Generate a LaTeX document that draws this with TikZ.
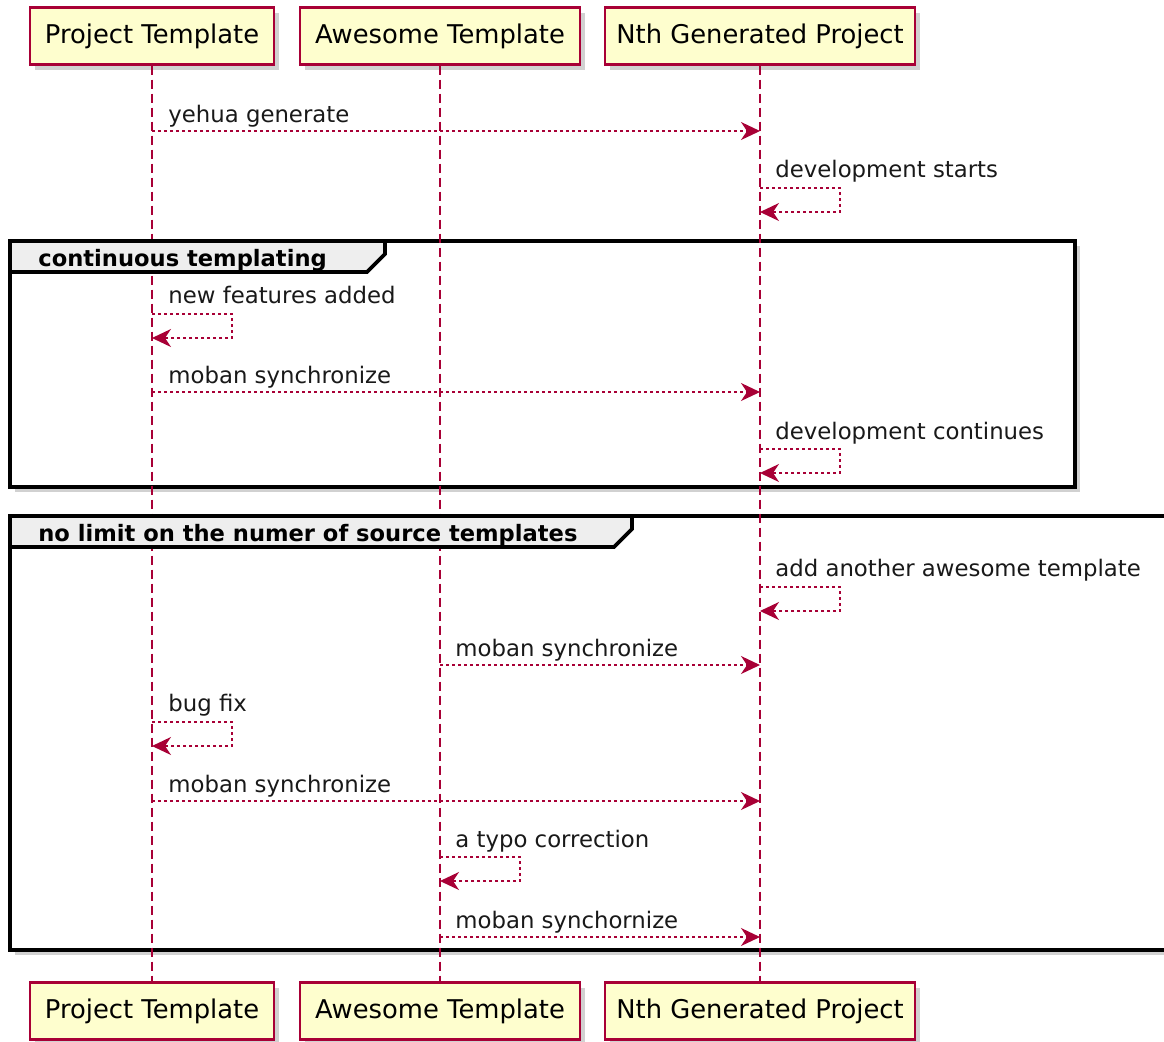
\documentclass[tikz,border=0pt]{standalone}
\usepackage{fontspec}
\setmainfont{DejaVu Sans}
\usetikzlibrary{arrows.meta,shadows}

\definecolor{umlred}{HTML}{A80036}
\definecolor{umlfill}{HTML}{FEFECE}
\definecolor{tabgray}{HTML}{EEEEEE}

\tikzset{
  actor/.style={draw=umlred, fill=umlfill, line width=1.1pt, minimum height=28.5pt,
    inner sep=0pt, font=\fontsize{12.9}{15}\selectfont,
    drop shadow={shadow xshift=2.5pt, shadow yshift=-2.5pt, fill=black!30, opacity=0.6}},
  life/.style={umlred, dash pattern=on 4.5pt off 2.5pt, line width=0.6pt},
  msg/.style={umlred, dash pattern=on 1.5pt off 1.5pt, line width=0.6pt,
    -{Stealth[length=9.5pt, width=9pt, inset=3pt]}},
  lbl/.style={font=\fontsize{11.4}{14}\selectfont, anchor=base west, inner sep=0pt, text=black!90},
  grp/.style={draw=black, line width=1.8pt},
  grplbl/.style={font=\bfseries\fontsize{11.3}{13}\selectfont, anchor=base west, inner sep=0pt},
}

\begin{document}
\begin{tikzpicture}[x=0.5pt, y=-0.5pt]
\useasboundingbox (0,0) rectangle (1164,1041);

% participants, top and bottom
\node[actor, minimum width=122pt] (PT) at (152,36) {Project Template};
\node[actor, minimum width=140pt] (AT) at (440,36) {Awesome Template};
\node[actor, minimum width=155pt] (NG) at (760,36) {Nth Generated Project};
\node[actor, minimum width=122pt] (PTb) at (152,1011) {Project Template};
\node[actor, minimum width=140pt] (ATb) at (440,1011) {Awesome Template};
\node[actor, minimum width=155pt] (NGb) at (760,1011) {Nth Generated Project};

% group frames
\draw[grp, drop shadow={shadow xshift=2.5pt, shadow yshift=-2.5pt, fill=black!30, opacity=0.6}, fill=white]
  (10,241) rectangle (1075,487);
\draw[grp, drop shadow={shadow xshift=2.5pt, shadow yshift=-2.5pt, fill=black!30, opacity=0.6}, fill=white]
  (10,516) rectangle (1180,950);

% lifelines
\draw[life] (PT) -- (PTb);
\draw[life] (AT) -- (ATb);
\draw[life] (NG) -- (NGb);

% group tabs
\draw[grp, fill=tabgray] (10,241) -- (385,241) -- (385,254) -- (367,272) -- (10,272) -- cycle;
\draw[grp, fill=tabgray] (10,516) -- (632,516) -- (632,529) -- (614,547) -- (10,547) -- cycle;
\node[grplbl] (g1) at (38,266) {continuous templating};
\node[grplbl] (g2) at (38,541) {no limit on the numer of source templates};

% messages
\node[lbl] (m1) at (168,122) {yehua generate};
\draw[msg] (PT |- 0,131) -- (NG |- 0,131);

\node[lbl] (m2) at (775,177) {development starts};
\draw[msg] (NG |- 0,188) -- ++(80,0) |- (NG |- 0,212);

\node[lbl] (m3) at (168,303) {new features added};
\draw[msg] (PT |- 0,314) -- ++(80,0) |- (PT |- 0,338);

\node[lbl] (m4) at (168,383) {moban synchronize};
\draw[msg] (PT |- 0,392) -- (NG |- 0,392);

\node[lbl] (m5) at (775,439) {development continues};
\draw[msg] (NG |- 0,449) -- ++(80,0) |- (NG |- 0,473);

\node[lbl] (m6) at (775,576) {add another awesome template};
\draw[msg] (NG |- 0,587) -- ++(80,0) |- (NG |- 0,611);

\node[lbl] (m7) at (455,656) {moban synchronize};
\draw[msg] (AT |- 0,665) -- (NG |- 0,665);

\node[lbl] (m8) at (168,711) {bug fix};
\draw[msg] (PT |- 0,722) -- ++(80,0) |- (PT |- 0,746);

\node[lbl] (m9) at (168,792) {moban synchronize};
\draw[msg] (PT |- 0,801) -- (NG |- 0,801);

\node[lbl] (m10) at (455,847) {a typo correction};
\draw[msg] (AT |- 0,857) -- ++(80,0) |- (AT |- 0,881);

\node[lbl] (m11) at (455,928) {moban synchornize};
\draw[msg] (AT |- 0,937) -- (NG |- 0,937);
\end{tikzpicture}
\end{document}
